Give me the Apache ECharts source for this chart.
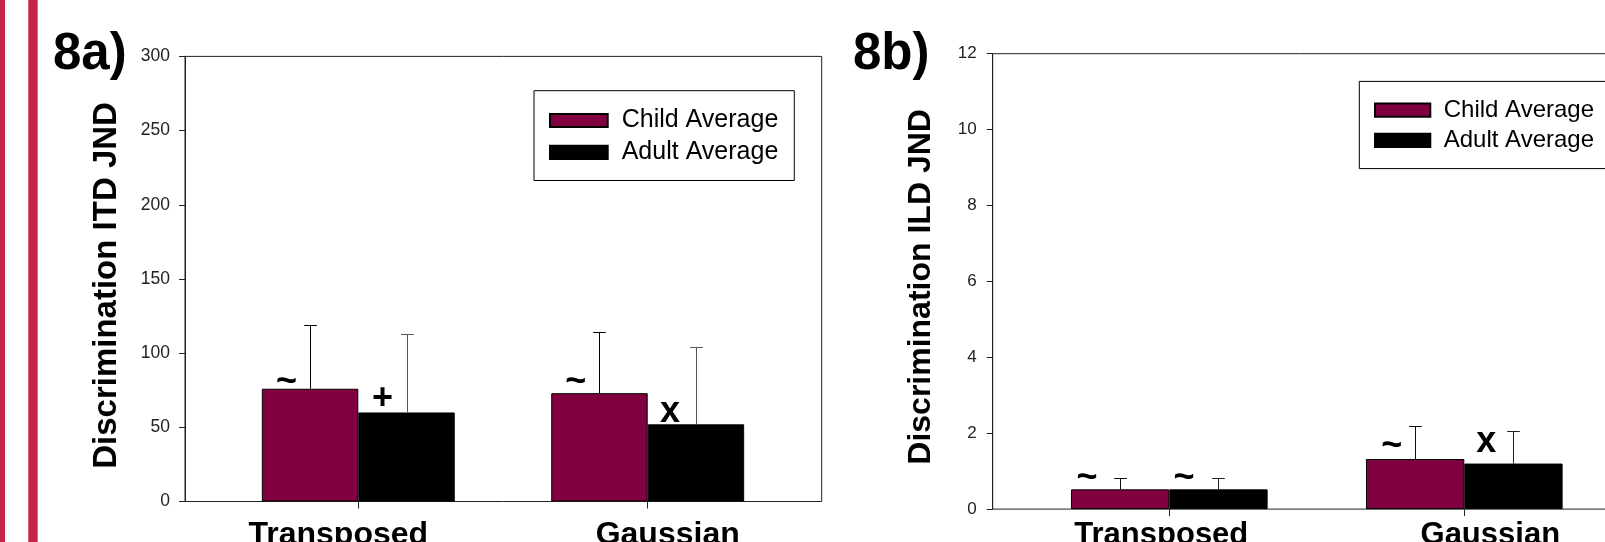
<!DOCTYPE html>
<html>
<head>
<meta charset="utf-8">
<script src="https://cdn.jsdelivr.net/npm/echarts@6/dist/echarts.min.js"></script>
<style>
  html, body { margin: 0; padding: 0; background: #fff; }
  #chart { width: 1605px; height: 542px; }
</style>
</head>
<body>
<div id="chart"></div>
<script>
// Conditions on the x axis
const categories = ['Transposed', 'Gaussian'];
const seriesNames = ['Child Average', 'Adult Average'];

// 8a) ITD discrimination JNDs: means and upper error-bar ends
const itdChild = [76, 73];
const itdChildUpper = [119, 114];
const itdAdult = [60, 52];
const itdAdultUpper = [113, 104];
const itdChildMarks = ['~', '~'];
const itdAdultMarks = ['+', 'x'];

// 8b) ILD discrimination JNDs: means and upper error-bar ends
const ildChild = [0.52, 1.32];
const ildChildUpper = [0.82, 2.18];
const ildAdult = [0.52, 1.20];
const ildAdultUpper = [0.82, 2.07];
const ildChildMarks = ['~', '~'];
const ildAdultMarks = ['~', 'x'];

// Y axis scales
const itdAxis = { min: 0, max: 300, interval: 50 };
const ildAxis = { min: 0, max: 12, interval: 2 };

const CHILD_COLOR = '#800040';
const FONT = '"Liberation Sans", Arial, Helvetica, sans-serif';
const MARK_SIZE = 36;
// vertical correction so each symbol's visual centre lands on its anchor
const glyphLift = { '~': 3, '+': 2.5, 'x': 1.5 };

// Panel geometry (pixels)
const panels = [
  { frame: { left: 185, top: 56.4, width: 636.7, height: 445.1 },
    bars:  { left: 213.6, top: 56.4, width: 578.8, height: 445.1 },
    axis: itdAxis, yName: 'Discrimination ITD JND', nameGap: 62, nameShift: 13,
    nameSize: 33, tickSize: 17.5, labelMargin: 15, catSize: 32, catMargin: 17.5,
    catShift: [-20, 20],
    childMarkAt: [[24.7, -9.5], [24.5, -14.4]], adultMarkAt: [[24.2, -16], [22.3, -14]],
    errColors: ['#000', '#555'],
    child: itdChild, childUpper: itdChildUpper, adult: itdAdult, adultUpper: itdAdultUpper,
    childMarks: itdChildMarks, adultMarks: itdAdultMarks },
  { frame: { left: 992.7, top: 53.7, width: 648.3, height: 455.4 },
    bars:  { left: 1021.8, top: 53.7, width: 590, height: 455.4 },
    axis: ildAxis, yName: 'Discrimination ILD JND', nameGap: 56, nameShift: 11,
    nameSize: 32, tickSize: 17, labelMargin: 16, catSize: 31, catMargin: 11,
    catShift: [-8, 26],
    childMarkAt: [[16, -14.7], [25.7, -15.5]], adultMarkAt: [[14.7, -14.7], [22, -23]],
    errColors: ['#111', '#222'],
    child: ildChild, childUpper: ildChildUpper, adult: ildAdult, adultUpper: ildAdultUpper,
    childMarks: ildChildMarks, adultMarks: ildAdultMarks }
];

const grids = [], xAxes = [], yAxes = [], series = [];

function errorBarSeries(name, gridAxis, means, uppers, side, color) {
  return {
    type: 'custom',
    name: name,
    xAxisIndex: gridAxis, yAxisIndex: gridAxis,
    z: 5,
    silent: true,
    encode: { x: 0, y: [1, 2] },
    data: means.map((m, i) => [i, m, uppers[i]]),
    renderItem: function (params, api) {
      const band = api.size([1, 0])[0];
      const base = api.coord([api.value(0), api.value(1)]);
      const top = api.coord([api.value(0), api.value(2)]);
      const cx = Math.round(base[0] + side * band / 6) + 0.5;
      const yb = base[1], yt = Math.round(top[1]) + 0.5;
      const cap = 6.3;
      const style = { stroke: color, lineWidth: 1 };
      return {
        type: 'group',
        children: [
          { type: 'line', shape: { x1: cx, y1: yb, x2: cx, y2: yt }, style: style },
          { type: 'line', shape: { x1: cx - cap, y1: yt, x2: cx + cap, y2: yt }, style: style }
        ]
      };
    }
  };
}

// Bar data items carry the significance symbol drawn above each bar
function barItems(values, marks, anchors) {
  return values.map((v, i) => ({
    value: v,
    label: {
      show: true,
      formatter: marks[i],
      position: [anchors[i][0], anchors[i][1] + (glyphLift[marks[i]] || 0)]
    }
  }));
}

panels.forEach((p, k) => {
  const fi = k * 2, bi = k * 2 + 1;
  grids.push(Object.assign({ show: true, borderColor: '#222', borderWidth: 1,
    backgroundColor: 'transparent', outerBoundsMode: 'none', containLabel: false }, p.frame));
  grids.push(Object.assign({ show: false, outerBoundsMode: 'none', containLabel: false }, p.bars));

  xAxes.push({ gridIndex: fi, type: 'value', min: 0, max: 1, show: false });
  yAxes.push({
    gridIndex: fi, type: 'value', min: p.axis.min, max: p.axis.max, interval: p.axis.interval,
    axisLine: { show: true, lineStyle: { color: '#222', width: 1 } },
    axisTick: { show: true, inside: false, length: 6, lineStyle: { color: '#222', width: 1 } },
    axisLabel: { fontSize: p.tickSize, color: '#222', margin: p.labelMargin, fontFamily: FONT },
    splitLine: { show: false },
    name: p.yName, nameLocation: 'middle', nameGap: p.nameGap, nameRotate: 90,
    nameTextStyle: { fontSize: p.nameSize, fontWeight: 'bold', color: '#000', fontFamily: FONT,
      padding: [0, p.nameShift, 0, 0] }
  });

  xAxes.push({
    gridIndex: bi, type: 'category',
    data: categories.map((c, i) => ({
      value: c,
      textStyle: { padding: p.catShift[i] < 0 ? [0, -2 * p.catShift[i], 0, 0] : [0, 0, 0, 2 * p.catShift[i]] }
    })),
    axisLine: { show: false },
    axisTick: { show: true, alignWithLabel: true, length: 7, lineStyle: { color: '#222', width: 1 } },
    axisLabel: { interval: 0, fontSize: p.catSize, fontWeight: 'bold', color: '#000',
      margin: p.catMargin, fontFamily: FONT },
    splitLine: { show: false }
  });
  yAxes.push({ gridIndex: bi, type: 'value', min: p.axis.min, max: p.axis.max,
    interval: p.axis.interval, show: false, splitLine: { show: false } });

  const markLabel = {
    show: true, align: 'center', verticalAlign: 'middle',
    fontSize: MARK_SIZE, fontWeight: 'bold', color: '#000', fontFamily: FONT
  };

  series.push({
    type: 'bar', name: seriesNames[0], xAxisIndex: bi, yAxisIndex: bi,
    data: barItems(p.child, p.childMarks, p.childMarkAt), barWidth: '33.33%', barGap: '0%',
    itemStyle: { color: CHILD_COLOR, borderColor: '#000', borderWidth: 1 },
    label: markLabel,
    emphasis: { disabled: true }
  });
  series.push({
    type: 'bar', name: seriesNames[1], xAxisIndex: bi, yAxisIndex: bi,
    data: barItems(p.adult, p.adultMarks, p.adultMarkAt), barWidth: '33.33%', barGap: '0%',
    itemStyle: { color: '#000', borderColor: '#000', borderWidth: 1 },
    label: markLabel,
    emphasis: { disabled: true }
  });
  series.push(errorBarSeries('err-child-' + k, bi, p.child, p.childUpper, -1, p.errColors[0]));
  series.push(errorBarSeries('err-adult-' + k, bi, p.adult, p.adultUpper, 1, p.errColors[1]));
});

const legendBase = {
  data: seriesNames, orient: 'vertical', icon: 'rect',
  borderColor: '#000', borderWidth: 1, backgroundColor: '#fff',
  selectedMode: false, z: 10
};

const option = {
  animation: false,
  backgroundColor: '#fff',
  textStyle: { fontFamily: FONT },
  title: [
    { text: '8a)', left: 53, top: 29, padding: 0,
      textStyle: { fontSize: 51, fontWeight: 'bold', color: '#000', fontFamily: FONT } },
    { text: '8b)', left: 853, top: 29, padding: 0,
      textStyle: { fontSize: 51, fontWeight: 'bold', color: '#000', fontFamily: FONT } }
  ],
  legend: [
    Object.assign({}, legendBase, {
      left: 534, top: 90.7, padding: [17.3, 16, 15.6, 15], itemGap: 6.9,
      itemWidth: 57.7, itemHeight: 13.2,
      textStyle: { fontSize: 25, color: '#000', fontFamily: FONT, padding: [0, 0, 0, 9] }
    }),
    Object.assign({}, legendBase, {
      left: 1359.3, top: 81.4, padding: [16.7, 16, 16.3, 14.7], itemGap: 6.2,
      itemWidth: 55.3, itemHeight: 13.2,
      textStyle: { fontSize: 24, color: '#000', fontFamily: FONT, padding: [0, 0, 0, 8.4] }
    })
  ],
  graphic: [
    { type: 'rect', left: 0, top: 0, shape: { width: 5, height: 542 }, style: { fill: '#c7244a' }, silent: true },
    { type: 'rect', left: 28.3, top: 0, shape: { width: 9.4, height: 542 }, style: { fill: '#c7244a' }, silent: true }
  ],
  grid: grids,
  xAxis: xAxes,
  yAxis: yAxes,
  series: series
};

const chart = echarts.init(document.getElementById('chart'), null, { renderer: 'canvas' });
chart.setOption(option);
</script>
</body>
</html>
